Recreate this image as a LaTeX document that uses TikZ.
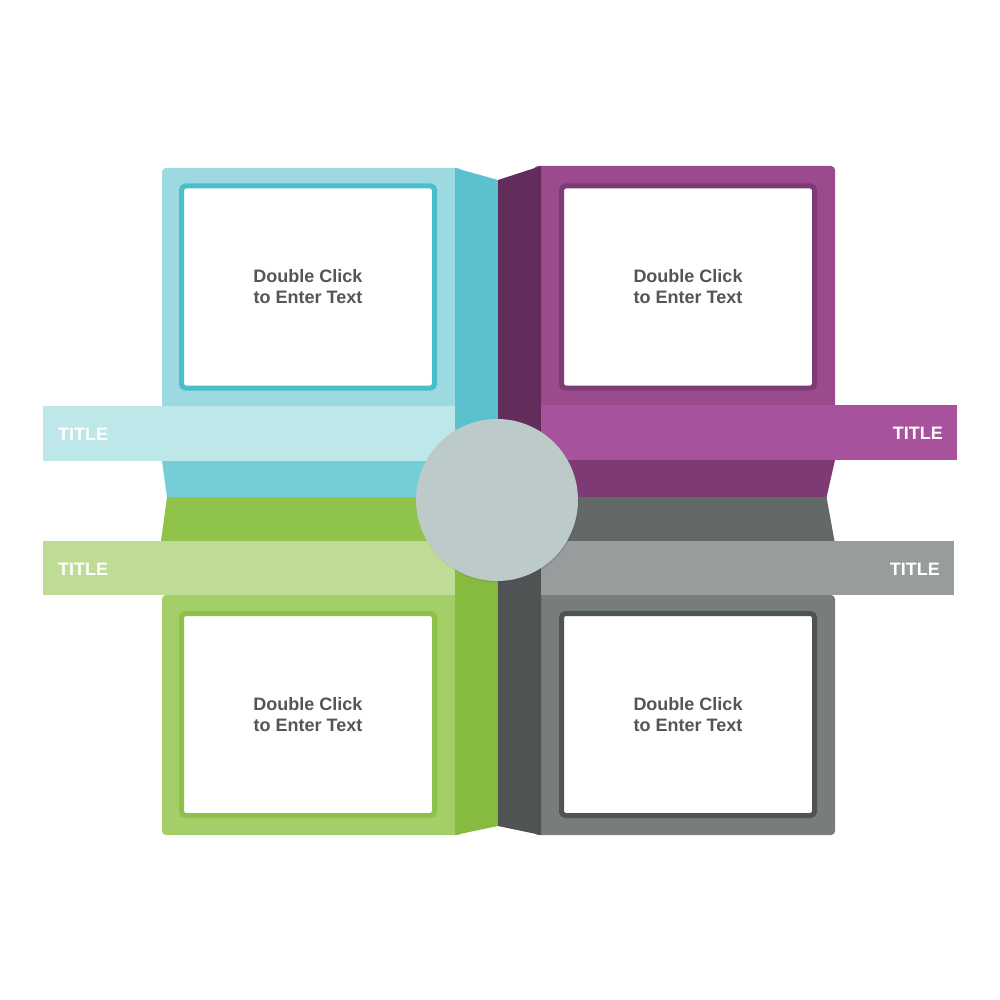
\documentclass[tikz,border=0pt]{standalone}
\usepackage{fontspec}
\setmainfont{Liberation Sans}
\usetikzlibrary{shadows}
\definecolor{cyanpanel}{HTML}{9CD9E0}
\definecolor{cyanline}{HTML}{4BBFC9}
\definecolor{cyanstrip}{HTML}{5BC1CE}
\definecolor{cyantitle}{HTML}{BEE7EA}
\definecolor{cyanlow}{HTML}{75CDD6}
\definecolor{purppanel}{HTML}{9C4A8E}
\definecolor{purpline}{HTML}{7E3A74}
\definecolor{purpstrip}{HTML}{632D5B}
\definecolor{purptitle}{HTML}{A8529D}
\definecolor{purplow}{HTML}{7E3A74}
\definecolor{greenpanel}{HTML}{A4CE67}
\definecolor{greenline}{HTML}{8DC148}
\definecolor{greenstrip}{HTML}{86BB40}
\definecolor{greentitle}{HTML}{BEDC95}
\definecolor{greentop}{HTML}{8FC34A}
\definecolor{graypanel}{HTML}{777C7C}
\definecolor{grayline}{HTML}{4F5354}
\definecolor{graystrip}{HTML}{4F5354}
\definecolor{graytitle}{HTML}{989C9C}
\definecolor{graytop}{HTML}{636868}
\definecolor{hubgray}{HTML}{BDCACA}
\definecolor{textgray}{HTML}{555555}
\begin{document}
\begin{tikzpicture}
  [x=1pt,y=-1pt,
   panel/.style={rounded corners=4pt},
   txtbox/.style={draw,line width=5pt,fill=white,rounded corners=4pt,
     minimum width=253pt,minimum height=202pt,align=center,
     text=textgray,font=\fontsize{18}{21}\selectfont\bfseries},
   titletext/.style={text=white,inner sep=0pt,
     font=\fontsize{18}{21}\selectfont\bfseries}]
  \useasboundingbox (0,0) rectangle (1000,1000);

  % panels
  \fill[cyanpanel,panel] (162,168) rectangle (462,461);
  \fill[cyanlow] (162,461) -- (167,497) -- (462,497) -- (462,461) -- cycle;
  \fill[purppanel,panel] (534,166) rectangle (835,460);
  \fill[purplow] (534,460) -- (835,460) -- (826.5,497.5) -- (534,497.5) -- cycle;
  \fill[greentop] (167,497) -- (161,541) -- (462,541) -- (462,497) -- cycle;
  \fill[greenpanel,panel] (162,595) rectangle (462,835);
  \fill[graytop] (534,497) -- (826.5,497) -- (834.5,541) -- (534,541) -- cycle;
  \fill[graypanel,panel] (534,595) rectangle (835,835);

  % middle strips
  \fill[cyanstrip] (455,168) -- (498,180) -- (498,498) -- (455,498) -- cycle;
  \fill[purpstrip] (498,180) -- (541,166) -- (541,498) -- (498,498) -- cycle;
  \fill[greenstrip] (455,497) -- (498,497) -- (498,826) -- (455,835) -- cycle;
  \fill[graystrip] (498,497) -- (541,497) -- (541,835) -- (498,826) -- cycle;

  % title bars
  \fill[cyantitle] (43,406) rectangle (455,461);
  \fill[purptitle] (541,405) rectangle (957,460);
  \fill[greentitle] (43,541) rectangle (455,595);
  \fill[graytitle] (541,541) rectangle (954,595);

  \foreach \cx/\cy/\col/\nm in {308/287/cyanline/tl,688/287/purpline/tr,
                                308/714.5/greenline/bl,688/714.5/grayline/br} {
    \node[txtbox,draw=\col] (box\nm) at (\cx,\cy) {Double Click\\to Enter Text};
  }

  \node[circle,fill=hubgray,minimum size=162pt,inner sep=0pt,
    drop shadow={shadow xshift=1pt,shadow yshift=-1.5pt,opacity=0.18,fill=black!70}]
    (hub) at (497,500) {};

  \node[titletext,anchor=base west] (titletl) at (58,440) {TITLE};
  \node[titletext,anchor=base east] (titletr) at (943,439) {TITLE};
  \node[titletext,anchor=base west] (titlebl) at (58,575) {TITLE};
  \node[titletext,anchor=base east] (titlebr) at (940,575) {TITLE};
\end{tikzpicture}
\end{document}
